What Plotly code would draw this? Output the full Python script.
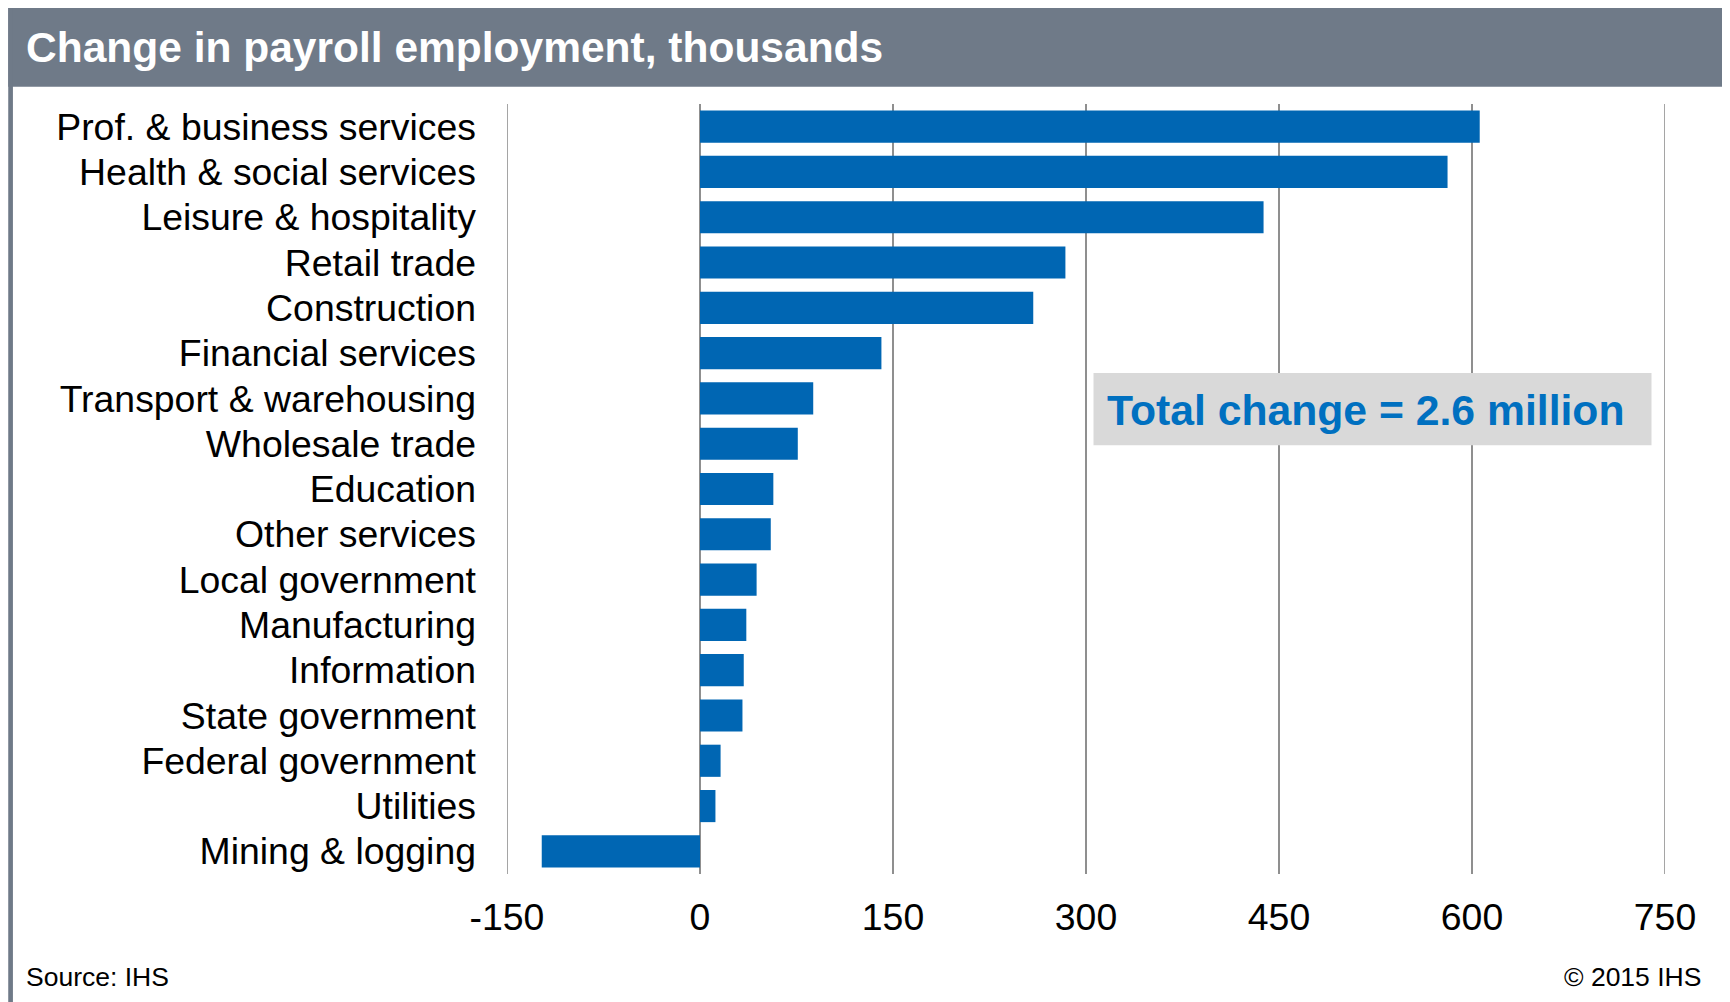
import plotly.graph_objects as go

# ---- data ----
categories = [
    "Prof. & business services", "Health & social services", "Leisure & hospitality",
    "Retail trade", "Construction", "Financial services", "Transport & warehousing",
    "Wholesale trade", "Education", "Other services", "Local government",
    "Manufacturing", "Information", "State government", "Federal government",
    "Utilities", "Mining & logging",
]
values = [606, 581, 438, 284, 259, 141, 88, 76, 57, 55, 44, 36, 34, 33, 16, 12, -123]
x_ticks = [-150, 0, 150, 300, 450, 600, 750]
title_text = "Change in payroll employment, thousands"
note_text = "Total change = 2.6 million"
source_text = "Source: IHS"
copyright_text = "© 2015 IHS"

# ---- layout geometry (pixels in the 1730x1002 window) ----
PAGE_MARGIN = 8  # default browser body margin
W, H = 1730 - PAGE_MARGIN, 1002 - PAGE_MARGIN


def X(v):  # window pixel -> figure pixel
    return v - PAGE_MARGIN


PL, PR, PT, PB = X(506.5), X(1665.5), X(104), X(873.7)
FONT = "Liberation Sans, Arial, sans-serif"
BAR_BLUE = "#0066b3"
SLATE = "#6f7a88"
GRID = "#8f8f8f"


def px(x):
    return (X(x) - PL) / (PR - PL)


def py(y):
    return (PB - X(y)) / (PB - PT)


fig = go.Figure(
    go.Bar(
        x=values, y=categories, orientation="h",
        marker=dict(color=BAR_BLUE, line=dict(width=0)),
        hoverinfo="skip",
    )
)

shapes = [
    # title bar
    dict(type="rect", xref="paper", yref="paper", x0=px(7.3), x1=px(1740), y0=py(86.7), y1=py(8),
         fillcolor=SLATE, line=dict(width=0), layer="below"),
    # left border
    dict(type="rect", xref="paper", yref="paper", x0=px(7.3), x1=px(12), y0=py(1010), y1=py(8),
         fillcolor=SLATE, line=dict(width=0), layer="below"),
]
# gridlines at the two range ends (plotly omits grid lines on the plot edges)
for v in (x_ticks[0], x_ticks[-1]):
    shapes.append(dict(type="line", xref="x", yref="paper", x0=v, x1=v, y0=0, y1=1,
                       line=dict(color=GRID, width=1.6), layer="below"))
# note box
shapes.append(dict(type="rect", xref="paper", yref="paper", x0=px(1093.5), x1=px(1652), y0=py(445), y1=py(373),
                   fillcolor="#d9d9d9", line=dict(width=0), layer="above"))

annotations = [
    dict(text=title_text, xref="paper", yref="paper", x=px(23), y=py(48), xanchor="left", yanchor="middle",
         showarrow=False, font=dict(family=FONT, size=42.5, color="white", weight="bold")),
    dict(text=note_text, xref="paper", yref="paper", x=px(1366), y=py(410), xanchor="center", yanchor="middle",
         showarrow=False, font=dict(family=FONT, size=42.7, color="#0070c0", weight="bold")),
    dict(text=source_text, xref="paper", yref="paper", x=px(23), y=py(977), xanchor="left", yanchor="middle",
         showarrow=False, font=dict(family=FONT, size=26.5, color="black")),
    dict(text=copyright_text, xref="paper", yref="paper", x=px(1704), y=py(977), xanchor="right", yanchor="middle",
         showarrow=False, font=dict(family=FONT, size=26.5, color="black")),
]

fig.update_layout(
    width=W, height=H,
    margin=dict(l=PL, r=W - PR, t=PT, b=H - PB, pad=0),
    paper_bgcolor="white", plot_bgcolor="white",
    bargap=0.29,
    showlegend=False,
    shapes=shapes,
    annotations=annotations,
    font=dict(family=FONT, color="black"),
    xaxis=dict(
        range=[x_ticks[0], x_ticks[-1]], tickvals=x_ticks, ticktext=[str(v) for v in x_ticks],
        showgrid=True, gridcolor=GRID, gridwidth=1.6,
        zeroline=True, zerolinecolor=GRID, zerolinewidth=1.6,
        showline=False, ticks="", ticklabelstandoff=18,
        tickfont=dict(family=FONT, size=37.4, color="black"),
        fixedrange=True,
    ),
    yaxis=dict(
        categoryorder="array", categoryarray=categories, autorange="reversed",
        range=[len(categories) - 0.5, -0.5],
        showgrid=False, zeroline=False, showline=False, ticks="", ticklabelstandoff=30,
        tickfont=dict(family=FONT, size=37.4, color="black"),
        fixedrange=True,
    ),
)

fig.write_html("out.html")
